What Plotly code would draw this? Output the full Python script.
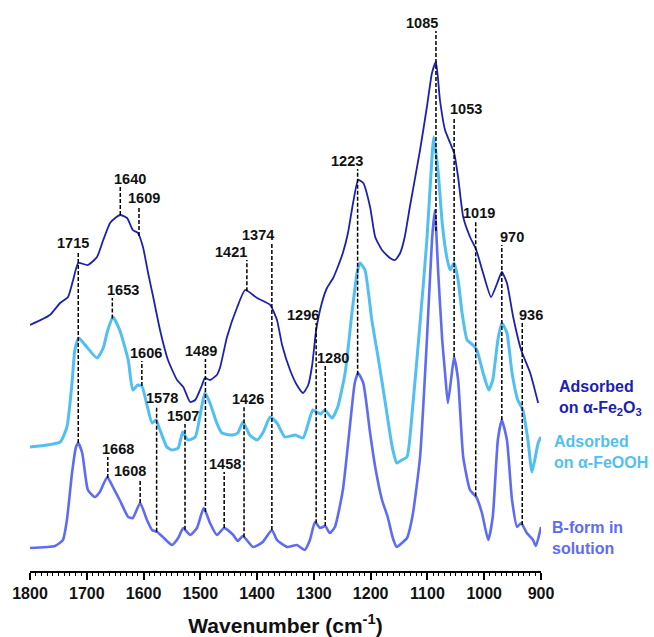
import numpy as np
import plotly.graph_objects as go

# ---------------- data (arbitrary absorbance, stacked) ----------------
wn_fe2o3 = [1800, 1765, 1747, 1733, 1724, 1715, 1698, 1682, 1671, 1659, 1650, 1641, 1629, 1619, 1610,
            1601, 1592, 1583, 1571, 1557, 1541, 1530, 1518, 1509, 1497, 1492, 1483, 1471, 1465, 1453,
            1435, 1421, 1400, 1377, 1365, 1356, 1342, 1330, 1319, 1310, 1303, 1296, 1286, 1277, 1266,
            1258, 1249, 1240, 1231, 1222, 1213, 1201, 1192, 1180, 1166, 1157, 1148, 1140, 1131, 1113,
            1101, 1092, 1085, 1078, 1069, 1060, 1053, 1046, 1037, 1025, 1014, 1002, 988, 977, 969,
            960, 949, 935, 919, 905]
ab_fe2o3 = [2.46, 2.56, 2.68, 2.74, 2.91, 3.08, 3.06, 3.14, 3.31, 3.48, 3.53, 3.56, 3.53, 3.41, 3.38,
            3.24, 2.98, 2.74, 2.41, 2.11, 1.91, 1.84, 1.69, 1.71, 1.86, 1.93, 1.91, 1.96, 2.04, 2.34,
            2.64, 2.81, 2.73, 2.66, 2.51, 2.26, 2.01, 1.86, 1.78, 1.86, 2.06, 2.41, 2.68, 2.83, 2.93,
            3.04, 3.18, 3.38, 3.68, 3.91, 3.88, 3.64, 3.34, 3.21, 3.13, 3.11, 3.18, 3.34, 3.64, 4.21,
            4.64, 4.98, 5.09, 4.71, 4.41, 4.28, 4.18, 3.94, 3.54, 3.34, 3.21, 2.98, 2.74, 2.88, 2.99,
            2.88, 2.54, 2.21, 1.98, 1.68]

wn_feooh = [1800, 1747, 1735, 1726, 1721, 1714, 1700, 1682, 1671, 1663, 1654, 1642, 1627, 1619, 1610,
            1603, 1594, 1585, 1578, 1571, 1559, 1550, 1539, 1531, 1522, 1509, 1501, 1492, 1483, 1471,
            1462, 1444, 1434, 1425, 1413, 1400, 1390, 1377, 1365, 1351, 1333, 1319, 1302, 1295, 1288,
            1281, 1268, 1258, 1245, 1233, 1224, 1219, 1210, 1198, 1187, 1175, 1162, 1154, 1145, 1136,
            1126, 1113, 1101, 1092, 1089, 1081, 1074, 1066, 1060, 1053, 1046, 1039, 1030, 1020, 1013,
            1002, 992, 985, 976, 969, 960, 951, 941, 932, 923, 916, 911, 905, 900]
ab_feooh = [1.24, 1.29, 1.44, 1.88, 2.21, 2.33, 2.24, 2.13, 2.23, 2.41, 2.54, 2.41, 2.11, 1.81, 1.86,
            1.85, 1.66, 1.48, 1.51, 1.41, 1.24, 1.21, 1.23, 1.39, 1.31, 1.34, 1.54, 1.78, 1.68, 1.48,
            1.38, 1.36, 1.38, 1.49, 1.36, 1.31, 1.38, 1.54, 1.48, 1.34, 1.36, 1.33, 1.61, 1.59, 1.57,
            1.61, 1.53, 1.64, 1.98, 2.58, 2.98, 3.08, 3.01, 2.51, 2.14, 1.71, 1.24, 1.08, 1.11, 1.14,
            1.64, 2.48, 3.31, 4.14, 4.34, 3.98, 3.48, 3.14, 3.01, 3.08, 2.91, 2.58, 2.31, 2.26, 2.21,
            1.98, 1.81, 1.91, 2.31, 2.48, 2.38, 1.98, 1.71, 1.61, 1.31, 0.99, 1.11, 1.28, 1.34]

wn_bform = [1800, 1756, 1742, 1735, 1726, 1719, 1715, 1708, 1698, 1686, 1677, 1664, 1654, 1642, 1627,
            1619, 1606, 1594, 1585, 1576, 1566, 1550, 1539, 1530, 1518, 1506, 1494, 1483, 1471, 1458,
            1442, 1434, 1425, 1407, 1390, 1374, 1365, 1347, 1330, 1316, 1307, 1298, 1289, 1280, 1272,
            1263, 1249, 1236, 1228, 1222, 1213, 1201, 1192, 1180, 1170, 1161, 1154, 1145, 1136, 1126,
            1113, 1101, 1092, 1087, 1081, 1074, 1069, 1064, 1057, 1053, 1046, 1037, 1025, 1014, 1004,
            993, 985, 976, 969, 960, 951, 942, 935, 925, 914, 909, 900]
ab_bform = [0.23, 0.25, 0.31, 0.51, 0.98, 1.24, 1.28, 1.18, 0.81, 0.74, 0.79, 0.94, 0.84, 0.71, 0.54,
            0.53, 0.68, 0.51, 0.41, 0.39, 0.34, 0.26, 0.33, 0.43, 0.36, 0.43, 0.63, 0.48, 0.36, 0.43,
            0.36, 0.30, 0.35, 0.24, 0.29, 0.41, 0.31, 0.24, 0.26, 0.21, 0.31, 0.49, 0.43, 0.45, 0.38,
            0.44, 0.81, 1.48, 1.88, 1.98, 1.88, 1.38, 1.04, 0.71, 0.54, 0.33, 0.24, 0.28, 0.33, 0.56,
            1.14, 2.31, 3.31, 3.61, 2.98, 2.31, 1.98, 1.68, 1.98, 2.14, 1.91, 1.14, 0.81, 0.74, 0.58,
            0.31, 0.54, 1.31, 1.51, 1.31, 0.71, 0.44, 0.48, 0.38, 0.31, 0.25, 0.44]

# peak labels: text, line position (cm-1), spectrum the line drops to
peak_text = ["1715", "1640", "1609", "1653", "1668", "1608", "1606", "1578", "1507", "1489", "1458",
             "1426", "1421", "1374", "1296", "1280", "1223", "1085", "1053", "1019", "970", "936"]
peak_pos = [1715, 1641, 1608, 1655, 1663, 1606, 1603, 1577, 1527, 1491, 1458,
            1423, 1418, 1374, 1296, 1280, 1223, 1085, 1053, 1015, 969, 933]
peak_target = ["bform", "fe2o3", "fe2o3", "feooh", "bform", "bform", "feooh", "bform", "bform", "bform", "bform",
               "bform", "fe2o3", "bform", "bform", "bform", "bform", "bform", "bform", "bform", "bform", "bform"]
# label placement (layout positions)
label_x = [1724, 1624, 1599, 1637, 1645, 1624, 1596, 1567, 1531, 1499, 1457,
           1416, 1446, 1398, 1319, 1267, 1242, 1109, 1032, 1009, 951, 918]
label_y = [3.28, 3.92, 3.73, 2.81, 1.22, 1.00, 2.18, 1.73, 1.55, 2.20, 1.07,
           1.72, 3.19, 3.36, 2.56, 2.13, 4.10, 5.48, 4.62, 3.58, 3.34, 2.56]

C_DARK = "#1c22b0"
C_LIGHT = "#52bff3"
C_MED = "#5d6cf3"
FONT = "Liberation Sans, Arial"

series = {
    "fe2o3": (wn_fe2o3, ab_fe2o3),
    "feooh": (wn_feooh, ab_feooh),
    "bform": (wn_bform, ab_bform),
}

fig = go.Figure()
fig.add_trace(go.Scatter(x=wn_feooh, y=ab_feooh, mode="lines",
                         line=dict(color=C_LIGHT, width=3.0, shape="spline", smoothing=0.5),
                         name="Adsorbed on α-FeOOH", hoverinfo="x+y"))
fig.add_trace(go.Scatter(x=wn_bform, y=ab_bform, mode="lines",
                         line=dict(color=C_MED, width=2.6, shape="spline", smoothing=0.5),
                         name="B-form in solution", hoverinfo="x+y"))
fig.add_trace(go.Scatter(x=wn_fe2o3, y=ab_fe2o3, mode="lines",
                         line=dict(color=C_DARK, width=1.8, shape="spline", smoothing=0.5),
                         name="Adsorbed on α-Fe2O3", hoverinfo="x+y"))

for txt, pos, tgt, lx, ly in zip(peak_text, peak_pos, peak_target, label_x, label_y):
    xs, ys = series[tgt]
    bottom = float(np.interp(pos, xs[::-1], ys[::-1]))
    fig.add_shape(type="line", xref="x", yref="y", x0=pos, x1=pos, y0=bottom, y1=ly - 0.08,
                  line=dict(color="black", width=1.5, dash="4px,2px"))
    fig.add_annotation(x=lx, y=ly, xref="x", yref="y", text=txt, showarrow=False,
                       xanchor="center", yanchor="middle",
                       font=dict(family=FONT, size=14.5, color="#111111", weight="bold"))

side_labels = [
    ("Adsorbed<br>on α-Fe<sub>2</sub>O<sub>3</sub>", 1.031, 1.73, C_DARK),
    ("Adsorbed<br>on α-FeOOH", 1.0215, 1.19, C_LIGHT),
    ("B-form in<br>solution", 1.0176, 0.33, C_MED),
]
for txt, px, py, col in side_labels:
    fig.add_annotation(x=px, y=py, xref="paper", yref="y", text=txt, showarrow=False,
                       xanchor="left", yanchor="middle", align="left",
                       font=dict(family=FONT, size=16, color=col, weight="bold"))

fig.update_layout(
    width=654, height=637,
    margin=dict(l=30, r=113, t=0, b=66),
    paper_bgcolor="white", plot_bgcolor="white",
    showlegend=False,
    xaxis=dict(range=[1800, 900], tickmode="linear", tick0=900, dtick=100,
               showline=True, linecolor="black", linewidth=1.5,
               ticks="outside", ticklen=7, tickwidth=1.5, tickcolor="black",
               minor=dict(dtick=10, ticklen=3.5, tickwidth=1, tickcolor="black", ticks="outside"),
               showgrid=False, zeroline=False,
               tickfont=dict(family=FONT, size=16, color="#111111", weight="bold"),
               title=dict(text="Wavenumber (cm<sup>-1</sup>)", standoff=20,
                          font=dict(family=FONT, size=21, color="#111111", weight="bold"))),
    yaxis=dict(range=[0, 5.71], visible=False, showgrid=False, zeroline=False),
)

fig.write_html("out.html", config={"displayModeBar": False},
               post_script="document.body.style.margin='0';document.body.style.overflow='hidden';")
